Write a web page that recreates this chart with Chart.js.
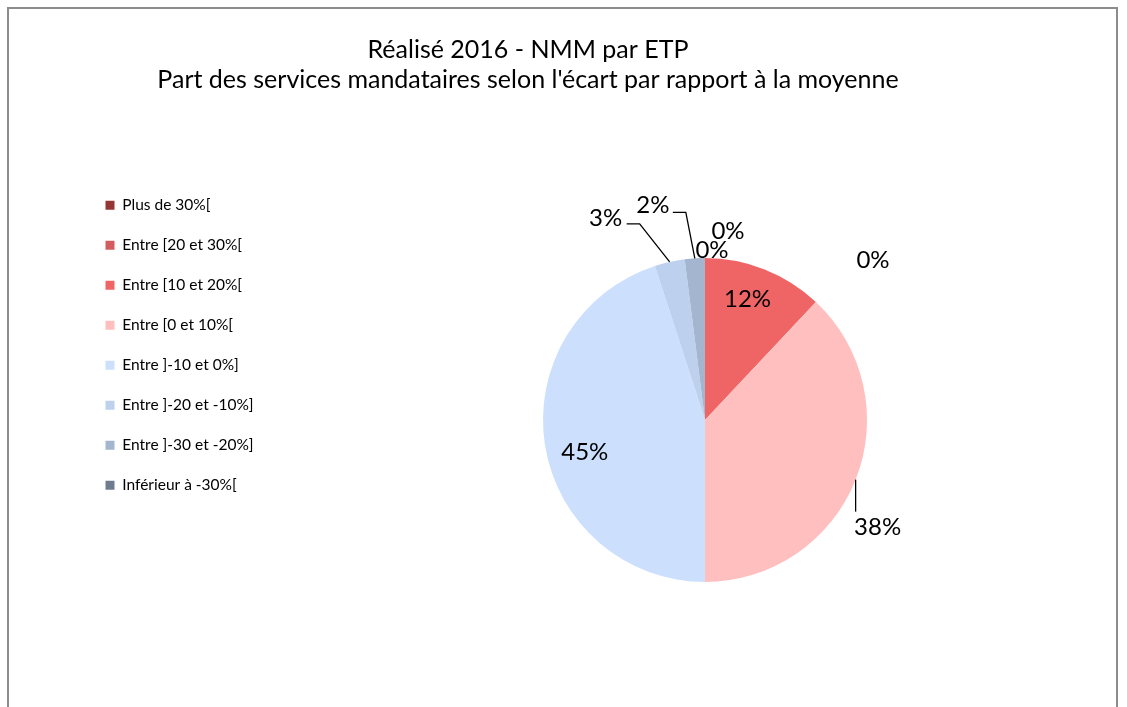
<!DOCTYPE html>
<html>
<head>
<meta charset="utf-8">
<script src="https://cdn.jsdelivr.net/npm/chart.js@4.4.0/dist/chart.umd.min.js"></script>
<style>
  body { margin: 0; background: #fff; }
  #wrap { position: relative; width: 1127px; height: 707px; overflow: hidden; }
  #frame { position: absolute; left: 7px; top: 7px; width: 1111px; height: 740px; border: 2px solid #8c8c8c; box-sizing: border-box; }
  canvas { position: absolute; left: 0; top: 0; }
</style>
</head>
<body>
<div id="wrap">
  <div id="frame"></div>
  <canvas id="pie-chart" width="1127" height="707"></canvas>
</div>
<script>
// categories (legend order, also slice order clockwise from 12 o'clock)
const categories = [
  "Plus de 30%[",
  "Entre [20 et 30%[",
  "Entre [10 et 20%[",
  "Entre [0 et 10%[",
  "Entre ]-10 et 0%]",
  "Entre ]-20 et -10%]",
  "Entre ]-30 et -20%]",
  "Inférieur à -30%["
];
// share of services (%)
const values = [0, 0, 12, 38, 45, 3, 2, 0];
const colors = ["#963634", "#d35c5c", "#ef6565", "#ffbfbf", "#cce0fd", "#bdd1ef", "#a3b5cf", "#6f7c8e"];

const titleLines = [
  "Réalisé 2016 - NMM par ETP",
  "Part des services mandataires selon l'écart par rapport à la moyenne"
];

// where each percentage label sits, relative to the point at r * radius on the slice's mid angle
const labelPlace = [
  { r: 1, dx: 168, dy: 2 },
  { r: 1, dx: 23, dy: -27 },
  { r: 0.78, dx: -4, dy: -3 },
  { r: 1, dx: 22, dy: 48, leader: [[-22, -16]] },
  { r: 0.77, dx: 3, dy: 13 },
  { r: 1, dx: -64, dy: -44, leader: [[34, 6], [21, 6]] },
  { r: 1, dx: -42, dy: -53, leader: [[33, 7], [20, 7]] },
  { r: 1, dx: 7, dy: -8 }
];

const FONT = "Lato, 'Open Sans', sans-serif";

const pctLabels = {
  id: "pctLabels",
  afterDatasetsDraw(chart) {
    const ctx = chart.ctx;
    const meta = chart.getDatasetMeta(0);
    const total = values.reduce((a, b) => a + b, 0);
    ctx.save();
    ctx.font = "24px " + FONT;
    ctx.fillStyle = "#000";
    ctx.strokeStyle = "#000";
    ctx.lineWidth = 1.3;
    ctx.textAlign = "center";
    ctx.textBaseline = "middle";
    meta.data.forEach((arc, i) => {
      const p = labelPlace[i];
      const { x, y, startAngle, endAngle, outerRadius } = arc.getProps(
        ["x", "y", "startAngle", "endAngle", "outerRadius"], true);
      const mid = (startAngle + endAngle) / 2;
      const ax = x + Math.cos(mid) * outerRadius * p.r;
      const ay = y + Math.sin(mid) * outerRadius * p.r;
      const tx = ax + p.dx;
      const ty = ay + p.dy;
      if (p.leader) {
        ctx.beginPath();
        ctx.moveTo(ax, ay);
        p.leader.forEach(([lx, ly]) => ctx.lineTo(tx + lx, ty + ly));
        ctx.stroke();
      }
      ctx.fillText(Math.round(values[i] / total * 100) + "%", tx, ty);
    });
    ctx.restore();
  }
};

// legend in the reference is much wider than its text, pushing the pie to the right
const wideLegend = {
  id: "wideLegend",
  beforeInit(chart) {
    const fit = chart.legend.fit;
    chart.legend.fit = function () {
      fit.bind(chart.legend)();
      this.width = 354;
    };
  }
};

new Chart(document.getElementById("pie-chart").getContext("2d"), {
  type: "pie",
  data: {
    labels: categories,
    datasets: [{
      data: values,
      backgroundColor: colors,
      borderWidth: 0,
      radius: 162
    }]
  },
  options: {
    responsive: false,
    animation: false,
    events: [],
    layout: { padding: { left: 81, right: 152, top: 20, bottom: 40 } },
    plugins: {
      title: {
        display: true,
        text: titleLines,
        color: "#000",
        font: { family: FONT, size: 25, weight: "normal", lineHeight: 1.2 },
        padding: { top: 15, bottom: 78 }
      },
      legend: {
        position: "left",
        align: "start",
        fullSize: false,
        labels: {
          boxWidth: 9,
          boxHeight: 9,
          padding: 24.5,
          color: "#000",
          font: { family: FONT, size: 15.5 }
        }
      },
      tooltip: { enabled: false }
    }
  },
  plugins: [wideLegend, pctLabels]
});
</script>
</body>
</html>
